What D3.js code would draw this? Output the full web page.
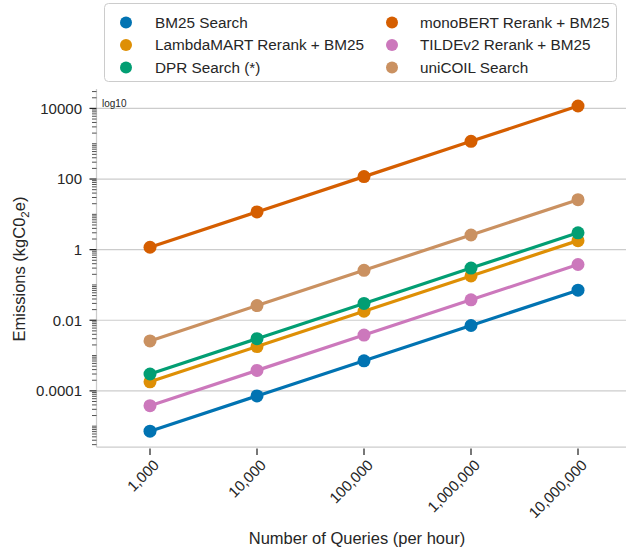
<!DOCTYPE html>
<html><head><meta charset="utf-8">
<script src="https://cdn.jsdelivr.net/npm/d3@7"></script>
<style>body{margin:0;background:#fff}svg{display:block;font-family:"Liberation Sans",Arial,sans-serif}</style>
</head><body><svg id="c" width="626" height="549"></svg>
<script>
const queries = ["1,000","10,000","100,000","1,000,000","10,000,000"];
const seriesNames = ["BM25 Search","LambdaMART Rerank + BM25","DPR Search (*)","monoBERT Rerank + BM25","TILDEv2 Rerank + BM25","uniCOIL Search"];
const colors = ["#0173b2","#de8f05","#029e73","#d55e00","#cc78bc","#ca9161"];
const bm25 = [0.0000072, 0.000072, 0.00071, 0.0071, 0.071];
const lambdamart = [0.00018, 0.0018, 0.018, 0.18, 1.8];
const dpr = [0.0003, 0.003, 0.03, 0.3, 3.0];
const monobert = [1.17, 11.7, 117, 1170, 11700];
const tildev2 = [0.000038, 0.00038, 0.0038, 0.038, 0.38];
const unicoil = [0.0026, 0.026, 0.26, 2.6, 26];
const seriesValues = [bm25, lambdamart, dpr, monobert, tildev2, unicoil];
const yTickValues = [0.0001, 0.01, 1, 100, 10000];
const yTickLabels = ["0.0001","0.01","1","100","10000"];

const svg = d3.select("#c");
const L = 96.5, R = 631.5, T = 89, B = 447;
const x = d3.scalePoint().domain(queries).range([L, R]).padding(0.5);
const y = d3.scaleLog().domain([Math.pow(10,-5.59), Math.pow(10,4.55)]).range([B, T]);

// gridlines
svg.append("g").selectAll("line").data(yTickValues).join("line")
  .attr("x1", L).attr("x2", R).attr("y1", d=>y(d)).attr("y2", d=>y(d))
  .attr("stroke", "#cccccc").attr("stroke-width", 1.2);

// spines
svg.append("line").attr("x1", L).attr("x2", L).attr("y1", T).attr("y2", B).attr("stroke", "#cccccc").attr("stroke-width", 1.25);
svg.append("line").attr("x1", L).attr("x2", R).attr("y1", B).attr("y2", B).attr("stroke", "#cccccc").attr("stroke-width", 1.25);

// y minor ticks
const minor = [];
for (let e = -6; e <= 4; e++) for (let k = 1; k <= 9; k++) {
  const v = k * Math.pow(10, e);
  const lv = Math.log10(v);
  if (lv >= -5.59 && lv <= 4.55 && !yTickValues.some(t => Math.abs(Math.log10(t) - lv) < 1e-9)) minor.push(v);
}
svg.append("g").selectAll("line").data(minor).join("line")
  .attr("x1", L - 4.5).attr("x2", L).attr("y1", d=>y(d)).attr("y2", d=>y(d))
  .attr("stroke", "#262626").attr("stroke-width", 0.8);
// y major ticks
const yg = svg.append("g");
yg.selectAll("line").data(yTickValues).join("line")
  .attr("x1", L - 7).attr("x2", L).attr("y1", d=>y(d)).attr("y2", d=>y(d))
  .attr("stroke", "#262626").attr("stroke-width", 1.25);
yg.selectAll("text").data(yTickValues).join("text")
  .attr("x", 82).attr("y", d=>y(d)).attr("dy", "0.35em").attr("text-anchor", "end")
  .attr("font-size", 15).attr("fill", "#262626").text((d,i)=>yTickLabels[i]);

// x ticks
const xg = svg.append("g");
xg.selectAll("line").data(queries).join("line")
  .attr("x1", d=>x(d)).attr("x2", d=>x(d)).attr("y1", B + 1.5).attr("y2", B + 8)
  .attr("stroke", "#262626").attr("stroke-width", 1.25);
xg.selectAll("text").data(queries).join("text")
  .attr("transform", d=>`translate(${x(d)+10},${B+19}) rotate(-45)`)
  .attr("text-anchor", "end").attr("font-size", 15).attr("fill", "#262626").text(d=>d);

// log10 label
svg.append("text").attr("x", 102).attr("y", 106.5).attr("font-size", 10).attr("fill", "#262626").text("log10");

// axis labels
svg.append("text").attr("x", 357).attr("y", 544).attr("text-anchor", "middle")
  .attr("font-size", 16.5).attr("fill", "#262626").text("Number of Queries (per hour)");
const yl = svg.append("text").attr("transform", "translate(25,269) rotate(-90)").attr("text-anchor", "middle")
  .attr("font-size", 16.5).attr("fill", "#262626");
yl.append("tspan").text("Emissions (kgC0");
yl.append("tspan").attr("font-size", 11.5).attr("dy", 4).text("2");
yl.append("tspan").attr("dy", -4).text("e)");

// series
const line = d3.line().x((d,i)=>x(queries[i])).y(d=>y(d));
seriesValues.forEach((vals, si) => {
  const g = svg.append("g");
  g.append("path").attr("d", line(vals)).attr("fill", "none").attr("stroke", colors[si]).attr("stroke-width", 3.2);
  g.selectAll("circle").data(vals).join("circle")
    .attr("cx", (d,i)=>x(queries[i])).attr("cy", d=>y(d)).attr("r", 6.5).attr("fill", colors[si]);
});

// legend
const lg = svg.append("g");
lg.append("rect").attr("x", 104.5).attr("y", 3.5).attr("width", 512).attr("height", 78).attr("rx", 4)
  .attr("fill", "#fff").attr("stroke", "#cccccc").attr("stroke-width", 1);
seriesNames.forEach((n, i) => {
  const col = Math.floor(i / 3), row = i % 3;
  const mx = col === 0 ? 126 : 392, tx = col === 0 ? 155 : 420;
  const yy = 22.5 + row * 22.5;
  lg.append("circle").attr("cx", mx).attr("cy", yy).attr("r", 6).attr("fill", colors[i]);
  lg.append("text").attr("x", tx).attr("y", yy).attr("dy", "0.35em").attr("font-size", 15.3).attr("fill", "#262626").text(n);
});
</script></body></html>
